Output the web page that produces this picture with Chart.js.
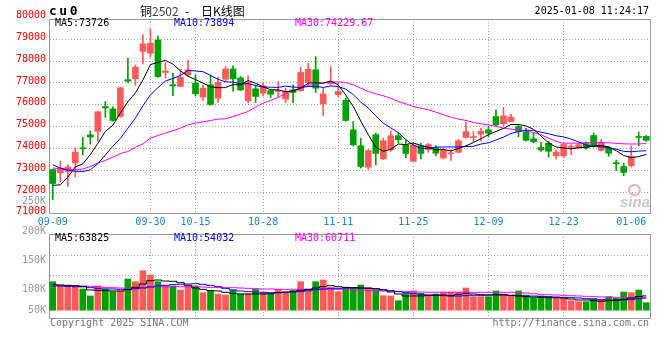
<!DOCTYPE html>
<html><head><meta charset="utf-8">
<script src="https://cdn.jsdelivr.net/npm/chart.js@4.4.1/dist/chart.umd.min.js"></script>
<style>
body{margin:0;background:#fff;}
#wrap{position:relative;width:660px;height:360px;overflow:hidden;background:#fff;}
canvas{position:absolute;left:0;top:0;}
.t{position:absolute;font:10px/12px "DejaVu Sans Mono",monospace;white-space:pre;}
</style></head><body>
<div id="wrap">
<canvas id="vol" width="660" height="360"></canvas>
<canvas id="main" width="660" height="360"></canvas>
<div class="t" style="left:49px;top:4px;font:bold 13px/14px 'DejaVu Sans Mono',monospace;letter-spacing:2.5px;color:#000;">cu0</div>
<div class="t" style="left:140px;top:4px;font:12px/14px 'Noto Sans CJK SC',sans-serif;color:#000;">铜<span style="color:#444">2502</span></div>
<div class="t" style="left:185px;top:4px;font:12px/14px 'Noto Sans CJK SC',sans-serif;color:#000;">-</div>
<div class="t" style="left:201px;top:4px;font:12px/14px 'Noto Sans CJK SC',sans-serif;color:#000;">日K线图</div>
<div class="t" style="right:11px;top:5px;color:#000;">2025-01-08 11:24:17</div>
<div class="t" id="m5" style="left:55px;top:17px;color:#000;"></div>
<div class="t" id="m10" style="left:174px;top:17px;color:#0000ff;"></div>
<div class="t" id="m30" style="left:295px;top:17px;color:#ff00ff;"></div>
<div class="t" id="v5" style="left:55px;top:232px;color:#000;"></div>
<div class="t" id="v10" style="left:174px;top:232px;color:#0000ff;"></div>
<div class="t" id="v30" style="left:295px;top:232px;color:#ff00ff;"></div>
<div class="t" style="left:50px;top:317px;color:#777;">Copyright 2025 SINA.COM</div>
<div class="t" style="right:11px;top:317px;color:#777;">http://finance.sina.com.cn</div>
<div style="position:absolute;left:628px;top:184px;width:9px;height:8px;border:2px solid #f3b0b0;border-radius:50%;"></div>
<div class="t" style="left:620px;top:194px;font:italic bold 15px/16px 'Liberation Sans',sans-serif;color:#c9c9c9;">sina</div>
</div>
<script>
const dates = ['09-09','09-10','09-11','09-12','09-13','09-18','09-19','09-20','09-23','09-24','09-25','09-26','09-27','09-30','10-08','10-09','10-10','10-11','10-14','10-15','10-16','10-17','10-18','10-21','10-22','10-23','10-24','10-25','10-28','10-29','10-30','10-31','11-01','11-04','11-05','11-06','11-07','11-08','11-11','11-12','11-13','11-14','11-15','11-18','11-19','11-20','11-21','11-22','11-25','11-26','11-27','11-28','11-29','12-02','12-03','12-04','12-05','12-06','12-09','12-10','12-11','12-12','12-13','12-16','12-17','12-18','12-19','12-20','12-23','12-24','12-25','12-26','12-27','12-30','12-31','01-02','01-03','01-06','01-07','01-08'];
const shownDates = ['09-09','09-30','10-15','10-28','11-11','11-25','12-09','12-23','01-06'];
const gridDates = ['09-30','10-15','10-28','11-11','11-25','12-09','12-23'];

const open = [73030,72880,72950,73330,74020,74620,74780,75920,75810,75460,
77150,77190,78440,78360,78970,77480,76920,76840,77370,76990,
76350,76910,76300,77170,77640,77230,76180,76730,76530,76650,
76610,76260,76680,76650,77020,77600,76040,76960,76460,76200,
74850,74120,73140,74630,73520,73940,74580,74150,73410,74120,
73940,74020,73560,73750,73820,74500,74500,74650,74850,75460,
75130,75230,75000,74740,74440,74040,74240,73660,73660,74050,
74030,74220,74590,73910,74020,73340,73170,73200,74540,74550];
const high = [73050,73400,73250,74020,74500,74800,75700,76150,75900,76800,
78130,77830,79200,79470,79150,77930,77440,77630,78050,77370,
76900,77370,77270,77750,77780,77300,77320,76900,77020,76710,
77060,76760,76910,77720,77900,78210,76760,77750,76990,76300,
75230,74470,73950,74700,74470,74790,74730,74400,74240,74240,
74240,74120,73940,73940,74410,75190,74770,74930,75020,75770,
75880,75570,75080,74930,74700,74270,74330,73940,74240,74170,
74240,74300,74700,74400,74080,73460,73330,74120,74750,74590];
const low = [71650,72450,72250,72700,73700,74200,74330,75420,75250,75430,
77020,76880,77870,78180,77250,77220,76420,76820,77300,76400,
76200,75980,76100,77060,76610,76650,76100,76100,76410,76330,
76330,76100,76100,76610,76910,76560,75500,76910,76370,75250,
74110,73100,73030,73250,73490,73860,74250,73570,73380,73520,
73820,73660,73510,73450,73790,74470,74310,74340,74530,75030,
75040,75230,74530,74330,74260,73860,73600,73510,73560,73710,
74000,73970,74060,73870,73640,72990,72750,73140,74120,74320];
const close = [72390,73100,73150,73830,73980,74520,75680,75850,75280,76780,
77080,77730,78790,78820,77290,77550,76860,77250,77600,76500,
76760,76010,77020,77640,77190,76680,77020,76380,76870,76480,
76660,76610,76560,77480,77630,76760,76500,77060,76610,75280,
74160,73170,73900,73770,74350,74580,74400,73770,74150,73770,
74170,73780,73900,73790,74350,74770,74540,74780,74700,75080,
75490,75430,74780,74370,74310,73930,73870,73830,74180,74090,
74170,74020,74100,74280,73780,73300,72900,73630,74500,74370];

const ma5 = [72310,72330,72680,73150,73290,73716,74232,74772,75062,75622,
76134,76544,77132,77840,77942,78036,77862,77554,77310,77152,
76994,76824,76778,76786,76924,76908,77110,76982,76828,76686,
76682,76600,76636,76758,76988,77008,76986,77086,76912,76442,
75922,75256,74624,74056,73870,73954,74200,74174,74250,74134,
74052,73928,73954,73882,73998,74118,74270,74446,74628,74774,
74918,75096,75096,75030,74876,74564,74252,74062,74024,73980,
74028,74058,74112,74132,74070,73896,73672,73578,73622,73726];
const ma10 = [73250,73100,73000,72950,72940,73020,73300,73700,74100,74456,
74925,75388,75952,76451,76782,77085,77203,77343,77575,77547,
77515,77343,77166,77048,77038,76951,76967,76880,76807,76805,
76795,76855,76809,76793,76837,76845,76793,76861,76835,76715,
76465,76121,75855,75484,75156,74938,74728,74399,74153,74002,
74003,74064,74064,74066,74066,74085,74099,74200,74255,74386,
74518,74683,74771,74829,74825,74741,74674,74579,74527,74428,
74296,74155,74087,74078,74025,73962,73865,73845,73877,73894];
const ma30 = [73100,73070,73040,73020,73050,73170,73330,73450,73600,73760,
73860,74050,74210,74470,74590,74700,74810,74930,75080,75160,
75220,75280,75340,75360,75460,75570,75690,75890,76070,76200,
76330,76530,76650,76760,76880,76960,77000,77030,77050,77020,
76910,76760,76610,76500,76410,76300,76150,76040,75920,75840,
75770,75660,75540,75430,75340,75280,75190,75130,75070,75010,
74930,74880,74840,74790,74730,74620,74470,74320,74240,74240,
74240,74260,74270,74270,74260,74230,74210,74200,74200,74230];

const vol = [124700,106200,106200,103200,93300,63200,106200,93300,81700,84700,
136300,124700,172000,153500,124700,106200,106200,89000,103200,106200,
77400,86000,71800,67500,89000,71800,71800,93300,77400,71800,
92000,77400,86000,124700,92000,124700,132000,100600,81700,100600,
100600,110500,100600,89000,64500,63200,43000,74800,84700,74800,
64500,71800,80400,80400,80400,97600,60200,60200,60200,84700,
71800,64500,84700,67500,55900,63200,60200,53300,53300,43000,
38700,38700,51600,49000,60200,53300,80400,77400,89000,34400];
const vma5 = [113400,110500,109100,107600,103300,89000,87600,86100,84700,84700,
90400,100500,114800,129100,132000,127700,126300,120500,109100,97600,
91900,86100,84700,79000,74700,71800,71800,71800,71800,73200,
77500,80400,83300,87600,91900,97600,103300,107600,103300,100500,
99000,97600,96200,94700,89000,80400,71800,63200,63200,63200,
66100,67500,67500,64600,70400,74700,71800,68900,67500,68900,
68900,66100,63200,60300,58900,57500,56000,56000,54600,50300,
46000,46000,43100,40300,43100,46000,48900,54600,60300,63825];
const vma10 = [106200,106200,104800,103300,103300,99000,96200,93300,93300,91900,
91900,94700,97600,101900,106200,109100,111900,113400,114800,116200,
113400,109100,103300,96200,89000,84700,81800,80400,79000,77500,
77500,79000,80400,81800,86100,90400,93300,94700,96200,97600,
97600,97600,96200,93300,90400,86100,81800,77500,73200,70400,
67500,66100,64600,63200,63200,64600,66100,66100,67500,67500,
67500,66100,64600,63200,63200,61800,60300,58900,57500,56000,
54600,51700,50300,47400,46000,44600,46000,48900,51700,54032];
const vma30 = [109100,109100,107600,107600,106200,104800,103300,100500,99000,97600,
96200,96200,99000,101900,103300,103300,103300,103300,103300,103300,
101900,100500,100500,99000,99000,97600,96200,94700,93300,93300,
91900,91900,91900,91900,91900,91900,91900,93300,91900,90400,
89000,87600,86100,86100,84700,84700,83300,81800,80400,80400,
79000,79000,79000,79000,79000,79000,79000,79000,79000,79000,
79000,79000,77500,76100,73200,70400,68900,67500,66100,64600,
63200,61800,60300,58900,58900,57500,57500,56000,56000,57500];

const priceTicks = [71000,72000,73000,74000,75000,76000,77000,78000,79000,80000];
const volTickValues = [468700,342700,238200,216700,152200,92000,0];
const volTickLabels = ['250K','200K','','150K','','100K','50K'];
const maTexts = ['MA5:73726','MA10:73894','MA30:74229.67'];
const volMaTexts = ['MA5:63825','MA10:54032','MA30:60711'];

document.getElementById('m5').textContent = maTexts[0];
document.getElementById('m10').textContent = maTexts[1];
document.getElementById('m30').textContent = maTexts[2];
document.getElementById('v5').textContent = volMaTexts[0];
document.getElementById('v10').textContent = volMaTexts[1];
document.getElementById('v30').textContent = volMaTexts[2];

const UP = '#ff5a5a', DOWN = '#00a000';
const colors = close.map((c, i) => c >= open[i] ? UP : DOWN);
const bodies = open.map((o, i) => [Math.min(o, close[i]), Math.max(o, close[i])]);
const wicks = low.map((l, i) => [l, high[i]]);

Chart.defaults.font.family = "'DejaVu Sans Mono', monospace";
Chart.defaults.font.size = 10;

const GRID = '#a8a8a8', FRAME = '#999';
const xGridColor = ctx => (ctx.tick && gridDates.includes(dates[ctx.index])) ? GRID : 'transparent';
const frameAxis = (pos) => ({
  type: 'linear', position: pos, display: true,
  ticks: {display: false}, grid: {display: false, drawTicks: false},
  border: {display: true, color: FRAME, width: 1},
  afterFit: s => { if (pos === 'top') s.height = 0; else s.width = 0; }
});
const lineDs = (data, color, stepped) => ({type: 'line', data, borderColor: color, borderWidth: 1,
  pointRadius: 0, tension: 0, fill: false, stepped: stepped || false});

new Chart(document.getElementById('main'), {
  type: 'bar',
  data: {labels: dates, datasets: [
    lineDs(ma5, '#000000'),
    lineDs(ma10, '#0000ff'),
    lineDs(ma30, '#ff00ff'),
    {data: bodies, backgroundColor: colors, barThickness: 6, minBarLength: 1, grouped: false, borderWidth: 0},
    {data: wicks, backgroundColor: colors, barThickness: 1, grouped: false, borderWidth: 0}
  ]},
  options: {
    responsive: false, animation: false, events: [],
    layout: {padding: {top: 19, right: 10, left: 0, bottom: 0}, autoPadding: false},
    plugins: {legend: {display: false}, tooltip: {enabled: false}},
    scales: {
      x: {type: 'category', offset: true,
        grid: {offset: false, drawTicks: false, color: xGridColor, lineWidth: 1},
        border: {color: FRAME, dash: [1, 2]},
        ticks: {autoSkip: false, maxRotation: 0, minRotation: 0, color: '#1a85d6', padding: 3,
          callback: (v, i) => shownDates.includes(dates[i]) ? dates[i] : ''},
        afterFit: s => { s.height = 147; }},
      xTop: frameAxis('top'),
      y: {type: 'linear', position: 'left', min: 71040, max: 79929,
        afterBuildTicks: s => { s.ticks = priceTicks.map(v => ({value: v})); },
        grid: {drawTicks: false, color: ctx => (ctx.tick && ctx.tick.value > 71040 && ctx.tick.value < 79929) ? GRID : 'transparent'},
        border: {color: FRAME, dash: [1, 2]},
        ticks: {color: '#ff0000', padding: 3, labelOffset: -2, autoSkip: false, callback: v => String(v)},
        afterFit: s => { s.width = 49; }},
      yRight: frameAxis('right')
    }
  }
});

new Chart(document.getElementById('vol'), {
  type: 'bar',
  data: {labels: dates, datasets: [
    lineDs(vma5, '#000000', 'middle'),
    lineDs(vma10, '#0000ff', 'middle'),
    lineDs(vma30, '#ff00ff', 'middle'),
    {data: vol, backgroundColor: colors, barThickness: 6, grouped: false, borderWidth: 0}
  ]},
  options: {
    responsive: false, animation: false, events: [],
    layout: {padding: {top: 234, right: 10, left: 0, bottom: 0}, autoPadding: false},
    plugins: {legend: {display: false}, tooltip: {enabled: false}},
    scales: {
      x: {type: 'category', offset: true,
        grid: {offset: false, drawTicks: false, color: xGridColor, lineWidth: 1},
        border: {color: FRAME, dash: [1, 2]},
        ticks: {display: false, autoSkip: false},
        afterFit: s => { s.height = 42; }},
      xTop: frameAxis('top'),
      y: {type: 'linear', position: 'left', min: -31400, max: 329800,
        afterBuildTicks: s => { s.ticks = volTickValues.map(v => ({value: v})); },
        grid: {drawTicks: false, color: ctx => (ctx.tick && volTickLabels[ctx.index] === '') ? GRID : 'transparent'},
        border: {color: FRAME, dash: [1, 2]},
        ticks: {color: '#999999', padding: 3, autoSkip: false, callback: (v, i) => volTickLabels[i]},
        afterFit: s => { s.width = 49; }},
      yRight: frameAxis('right')
    }
  }
});
</script>
</body></html>
